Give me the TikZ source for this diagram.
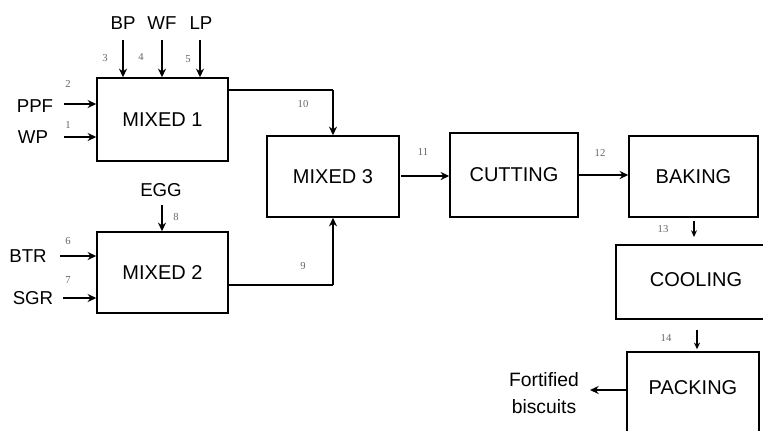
\documentclass[tikz,border=0pt]{standalone}
\usepackage{fontspec}
\setmainfont{Liberation Sans}
\newfontfamily\numfont{Liberation Serif}
\usetikzlibrary{arrows.meta}
\begin{document}
\begin{tikzpicture}[x=0.75pt,y=-0.75pt,
  box/.style={draw,line width=1.1pt,inner sep=0pt,font=\fontsize{15}{16}\selectfont},
  lbl/.style={inner sep=0pt,font=\fontsize{14}{15}\selectfont},
  num/.style={inner sep=0pt,text=black!60,font=\numfont\fontsize{8}{9}\selectfont},
  flow/.style={line width=1.4pt,-{Stealth[length=6.5pt,width=6pt]}},
  pipe/.style={line width=1.4pt}]
\useasboundingbox (0,0) rectangle (763,430);
\clip (0,0) rectangle (763,430);
% boxes
\node[box,minimum width=98.25pt,minimum height=62.25pt] (m1) at (162.5,119.5) {MIXED 1};
\node[box,minimum width=98.25pt,minimum height=60.75pt] (m2) at (162.5,272.5) {MIXED 2};
\node[box,minimum width=99pt,minimum height=60.75pt] (m3) at (333,176.5) {MIXED 3};
\node[box,minimum width=96pt,minimum height=63pt] (cut) at (514,175) {CUTTING};
\node[box,minimum width=96.75pt,minimum height=60.75pt] (bak) at (693.5,176.5) {BAKING};
\node[box,minimum width=119.25pt,minimum height=55.5pt] (cool) at (695.5,282) {};
\node[box,draw=none] (cooltxt) at (696,280) {COOLING};
\node[box,minimum width=99pt,minimum height=69.75pt] (pack) at (693,398.5) {};
\node[box,draw=none] (packtxt) at (693,388) {PACKING};
% inputs MIXED 1
\node[lbl] (bp) at (123,23) {BP};
\node[lbl] (wf) at (162,23) {WF};
\node[lbl] (lp) at (201,23) {LP};
\node[lbl] (ppf) at (35,106) {PPF};
\node[lbl] (wp) at (33,137) {WP};
\coordinate (bps) at (123,40);
\coordinate (wfs) at (162,40);
\coordinate (lps) at (200,40);
\draw[flow] (bps) -- (bps |- m1.north);
\draw[flow] (wfs) -- (wfs |- m1.north);
\draw[flow] (lps) -- (lps |- m1.north);
\coordinate (ppfs) at (64,104);
\coordinate (wps) at (64,137);
\draw[flow] (ppfs) -- (ppfs -| m1.west);
\draw[flow] (wps) -- (wps -| m1.west);
\node[num] (n3) at (105,58) {3};
\node[num] (n4) at (141,57) {4};
\node[num] (n5) at (188,59) {5};
\node[num] (n2) at (68,84) {2};
\node[num] (n1) at (68,125) {1};
% inputs MIXED 2
\node[lbl] (egg) at (161,190) {EGG};
\coordinate (eggs) at (162,205);
\draw[flow] (eggs) -- (eggs |- m2.north);
\node[num] (n8) at (176,217) {8};
\node[lbl] (btr) at (28,256) {BTR};
\node[lbl] (sgr) at (33,298) {SGR};
\coordinate (btrs) at (60,256);
\coordinate (sgrs) at (63,298);
\draw[flow] (btrs) -- (btrs -| m2.west);
\draw[flow] (sgrs) -- (sgrs -| m2.west);
\node[num] (n6) at (68,241) {6};
\node[num] (n7) at (68,280) {7};
% MIXED 1/2 -> MIXED 3
\coordinate (c10) at (333,90);
\coordinate (c9) at (333,285);
\draw[pipe] (m1.east |- c10) -- (c10);
\draw[flow] (c10) -- (m3.north);
\draw[pipe] (m2.east |- c9) -- (c9);
\draw[flow] (c9) -- (m3.south);
\node[num] (n10) at (303,104) {10};
\node[num] (n9) at (303,266) {9};
% main line
\coordinate (c11) at (401,176);
\draw[flow] (c11) -- (cut.west |- c11);
\node[num] (n11) at (423,152) {11};
\draw[flow] (cut.east) -- (bak.west |- cut.east);
\node[num] (n12) at (600,153) {12};
\coordinate (b13) at (694,217);
\draw[line width=1.1pt,-{Stealth[length=5pt,width=4.5pt]},shorten <=3pt,shorten >=5.5pt] (b13) -- (b13 |- cool.north);
\node[num] (n13) at (663,229) {13};
\coordinate (c14) at (697,319);
\draw[line width=1.1pt,-{Stealth[length=5pt,width=4.5pt]},shorten <=8pt,shorten >=1.5pt] (c14) -- (c14 |- pack.north);
\node[num] (n14) at (666,338) {14};
\node[lbl,align=center,font=\fontsize{14.5}{20}\selectfont] (fb) at (544,393) {Fortified\\biscuits};
\draw[flow] (pack.west |- 0,390) -- (590,390);
\end{tikzpicture}
\end{document}
